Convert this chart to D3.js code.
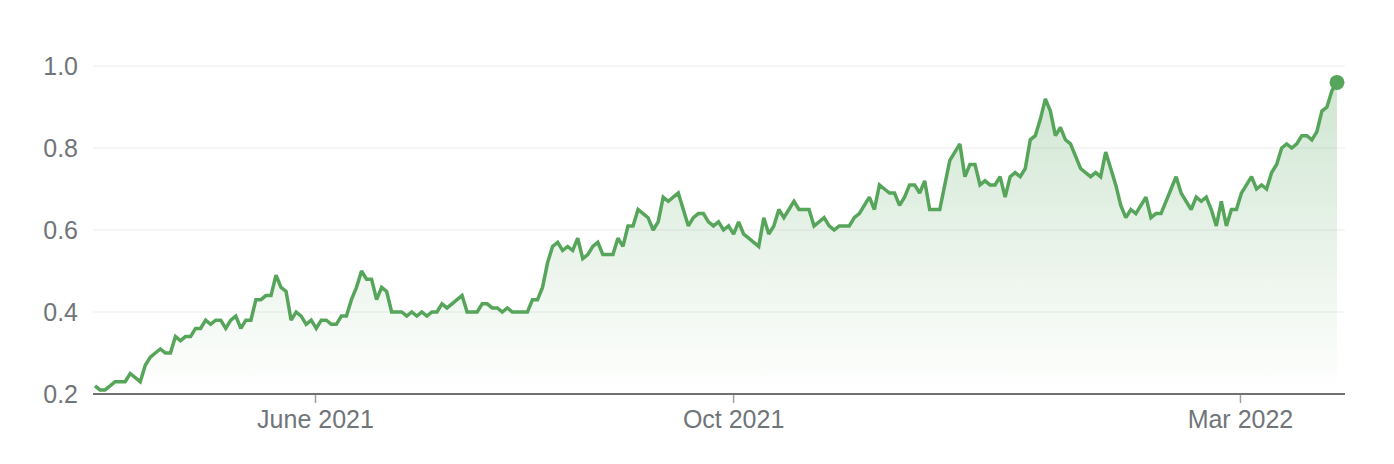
<!DOCTYPE html>
<html><head><meta charset="utf-8">
<script src="https://cdn.jsdelivr.net/npm/d3@7"></script>
<style>
html,body{margin:0;padding:0;background:#fff;}
svg{display:block;font-family:"Liberation Sans",Arial,sans-serif;}
</style></head>
<body><svg id="c" width="1394" height="464"></svg>
<script>
const values = [0.22,0.21,0.21,0.22,0.23,0.23,0.23,0.25,0.24,0.23,
 0.27,0.29,0.30,0.31,0.30,0.30,0.34,0.33,0.34,0.34,
 0.36,0.36,0.38,0.37,0.38,0.38,0.36,0.38,0.39,0.36,
 0.38,0.38,0.43,0.43,0.44,0.44,0.49,0.46,0.45,0.38,
 0.40,0.39,0.37,0.38,0.36,0.38,0.38,0.37,0.37,0.39,
 0.39,0.43,0.46,0.50,0.48,0.48,0.43,0.46,0.45,0.40,
 0.40,0.40,0.39,0.40,0.39,0.40,0.39,0.40,0.40,0.42,
 0.41,0.42,0.43,0.44,0.40,0.40,0.40,0.42,0.42,0.41,
 0.41,0.40,0.41,0.40,0.40,0.40,0.40,0.43,0.43,0.46,
 0.52,0.56,0.57,0.55,0.56,0.55,0.58,0.53,0.54,0.56,
 0.57,0.54,0.54,0.54,0.58,0.56,0.61,0.61,0.65,0.64,
 0.63,0.60,0.62,0.68,0.67,0.68,0.69,0.65,0.61,0.63,
 0.64,0.64,0.62,0.61,0.62,0.60,0.61,0.59,0.62,0.59,
 0.58,0.57,0.56,0.63,0.59,0.61,0.65,0.63,0.65,0.67,
 0.65,0.65,0.65,0.61,0.62,0.63,0.61,0.60,0.61,0.61,
 0.61,0.63,0.64,0.66,0.68,0.65,0.71,0.70,0.69,0.69,
 0.66,0.68,0.71,0.71,0.69,0.72,0.65,0.65,0.65,0.71,
 0.77,0.79,0.81,0.73,0.76,0.76,0.71,0.72,0.71,0.71,
 0.73,0.68,0.73,0.74,0.73,0.75,0.82,0.83,0.87,0.92,
 0.89,0.83,0.85,0.82,0.81,0.78,0.75,0.74,0.73,0.74,
 0.73,0.79,0.75,0.71,0.66,0.63,0.65,0.64,0.66,0.68,
 0.63,0.64,0.64,0.67,0.70,0.73,0.69,0.67,0.65,0.68,
 0.67,0.68,0.65,0.61,0.67,0.61,0.65,0.65,0.69,0.71,
 0.73,0.70,0.71,0.70,0.74,0.76,0.80,0.81,0.80,0.81,
 0.83,0.83,0.82,0.84,0.89,0.90,0.94,0.96];
const yTicks = [0.2,0.4,0.6,0.8,1.0];
const xTickLabels = ["June 2021","Oct 2021","Mar 2022"];
const xTickIndex = [43.75,126.9,227.7];

const svg = d3.select("#c");
const mLeft = 93, mRight = 1345, mTop = 66, mBottom = 394;
const x = d3.scaleLinear().domain([0, values.length-1]).range([95, 1337]);
const y = d3.scaleLinear().domain([0.2, 1.0]).range([mBottom, mTop]);
const green = "#56a55b";
const labelColor = "#70757a";

// gridlines
svg.append("g").selectAll("line").data(yTicks.slice(1)).join("line")
  .attr("x1", mLeft).attr("x2", mRight)
  .attr("y1", d=>y(d)).attr("y2", d=>y(d))
  .attr("stroke", "#ececec").attr("stroke-width", 1);

// y labels
svg.append("g").selectAll("text").data(yTicks).join("text")
  .attr("x", 78).attr("y", d=>y(d)).attr("dy", "0.35em")
  .attr("text-anchor", "end").attr("font-size", 25).attr("fill", labelColor)
  .text(d=>d.toFixed(1));

// gradient
const defs = svg.append("defs");
const grad = defs.append("linearGradient").attr("id","g1")
  .attr("gradientUnits","userSpaceOnUse").attr("x1",0).attr("x2",0)
  .attr("y1", y(d3.max(values))).attr("y2", mBottom);
grad.append("stop").attr("offset","0%").attr("stop-color",green).attr("stop-opacity",0.28);
grad.append("stop").attr("offset","100%").attr("stop-color",green).attr("stop-opacity",0.0);

const area = d3.area().x((d,i)=>x(i)).y0(mBottom).y1(d=>y(d));
svg.append("path").datum(values).attr("d", area).attr("fill","url(#g1)");

// axis
const xAxis = d3.axisBottom(x).tickValues(xTickIndex)
  .tickFormat((d,i)=>xTickLabels[i]).tickSize(9).tickSizeOuter(0).tickPadding(7);
const ax = svg.append("g").attr("transform",`translate(0,${mBottom})`).call(xAxis);
ax.select(".domain").remove();
ax.append("line").attr("x1",mLeft).attr("x2",mRight).attr("y1",0).attr("y2",0)
  .attr("stroke","#707070").attr("stroke-width",2);
ax.selectAll(".tick line").attr("stroke","#9aa0a6").attr("stroke-width",1.5);
ax.selectAll(".tick text").attr("font-size",25).attr("fill",labelColor)
  .attr("font-family","Liberation Sans, Arial, sans-serif");

const line = d3.line().x((d,i)=>x(i)).y(d=>y(d));
svg.append("path").datum(values).attr("d", line).attr("fill","none")
  .attr("stroke",green).attr("stroke-width",3.5).attr("stroke-linejoin","miter").attr("stroke-miterlimit",2);

svg.append("circle").attr("cx", x(values.length-1)).attr("cy", y(values[values.length-1]))
  .attr("r", 7.5).attr("fill", green);
</script></body></html>
